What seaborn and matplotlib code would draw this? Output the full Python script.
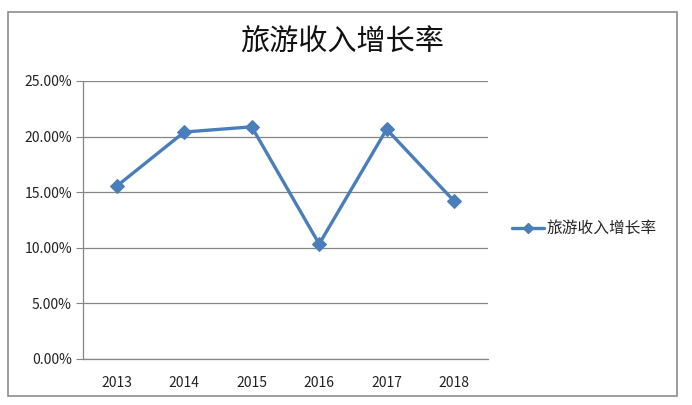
import numpy as np
import pandas as pd
import matplotlib
matplotlib.use("Agg")
import matplotlib.pyplot as plt
from matplotlib.patches import Rectangle
from matplotlib.ticker import FuncFormatter, FixedLocator
import seaborn as sns

years = ["2013", "2014", "2015", "2016", "2017", "2018"]
growth = [0.1555, 0.2041, 0.2088, 0.1034, 0.2066, 0.1420]
series_name = "旅游收入增长率"
title = "旅游收入增长率"

sns.set_style("white")
plt.rcParams['font.family'] = ['Liberation Sans Narrow', 'Noto Sans CJK SC', 'DejaVu Sans']

df = pd.DataFrame({"year": years, "rate": growth, "series": series_name})

fig = plt.figure(figsize=(6.92, 4.05), dpi=100)
ax = fig.add_axes([0.12, 0.1136, 0.585, 0.6864])

line_color = "#4a7ebb"
grid_color = "#868686"

sns.lineplot(data=df, x="year", y="rate", hue="series", palette=[line_color],
             marker="D", markersize=7, markeredgecolor=line_color,
             linewidth=2.4, ax=ax, legend=False)

ax.set_xlim(-0.5, len(years) - 0.5)
ax.set_ylim(0, 0.25)
ax.set_yticks(np.arange(0, 0.2501, 0.05))
ax.yaxis.set_major_formatter(FuncFormatter(lambda v, p: f"{v*100:.2f}%"))
ax.yaxis.grid(True, color=grid_color, linewidth=0.9)
ax.set_axisbelow(True)

ax.set_xticks(range(len(years)))
ax.set_xticklabels(years)
ax.xaxis.set_minor_locator(FixedLocator(np.arange(-0.5, len(years), 1.0)))
ax.tick_params(axis="x", which="major", length=0, pad=12, labelsize=10, colors="#222222")
ax.tick_params(axis="x", which="minor", length=5, color=grid_color, direction="out")
ax.tick_params(axis="y", length=5, color=grid_color, direction="out", labelsize=10,
               pad=3, left=True, labelcolor="#222222")

for s in ["top", "right"]:
    ax.spines[s].set_visible(False)
for s in ["left", "bottom"]:
    ax.spines[s].set_color(grid_color)
    ax.spines[s].set_linewidth(0.9)

ax.set_xlabel("")
ax.set_ylabel("")

fig.text(0.494, 0.895, title, ha="center", va="center", fontsize=21,
         family=['Noto Sans CJK SC', 'DejaVu Sans'], weight="light", color="#111111")

handle = plt.Line2D([], [], color=line_color, marker="D", markersize=5,
                    linewidth=2.4, markeredgecolor=line_color)
fig.legend([handle], [series_name], loc="center left",
           bbox_to_anchor=(0.72, 0.435), frameon=False,
           handlelength=2.0, handletextpad=0.2,
           prop={'family': ['Noto Sans CJK SC', 'DejaVu Sans'], 'size': 11.3})

fig.patches.append(Rectangle((0.012, 0.022), 0.967, 0.948, transform=fig.transFigure,
                             fill=False, edgecolor="#8c8c8c", linewidth=1.2))

fig.savefig("out.png", dpi=100)
